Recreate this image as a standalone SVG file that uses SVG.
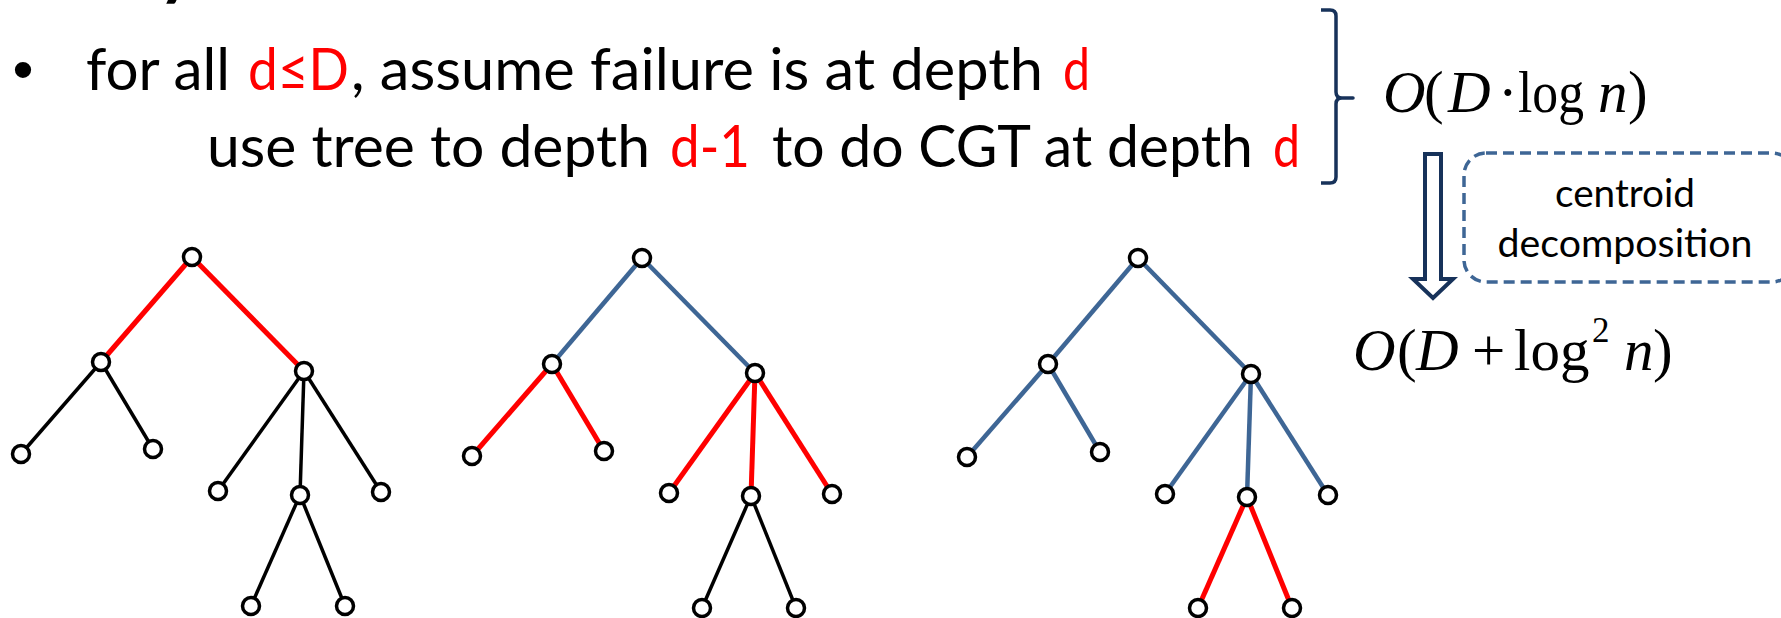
<svg xmlns="http://www.w3.org/2000/svg" width="1781" height="618" viewBox="0 0 1781 618">
  <style>
    .txt { font-family: Lato, "Open Sans", sans-serif; font-size: 58px; fill: #000; }
    .red { fill: #ff0000; }
    .math { font-family: "Liberation Serif", "Times New Roman", serif; font-size: 59px; fill: #000; }
    .it { font-style: italic; }
    .note { font-family: Lato, "Open Sans", sans-serif; font-size: 39px; fill: #000; text-anchor: middle; }
    .node { fill: #fff; stroke: #000; stroke-width: 3.5; }
    .e-red { stroke: #ff0000; stroke-width: 5; }
    .e-blk { stroke: #000; stroke-width: 3.5; }
    .e-blu { stroke: #3e6695; stroke-width: 4.5; }
  </style>

  <!-- title descender cut at the top edge -->
  <text x="158" y="-9" style="font-family: Lato, sans-serif; font-size: 72px; font-weight: bold;">y</text>

  <!-- bullet text -->
  <g id="bullet">
    <text x="23" y="90" text-anchor="middle" style="font-family: 'Liberation Sans', sans-serif; font-size: 60px;">•</text>
    <text class="txt" x="86" y="90" textLength="144" lengthAdjust="spacingAndGlyphs">for all</text>
    <text class="txt red" x="248" y="90" textLength="101" lengthAdjust="spacingAndGlyphs">d≤D</text>
    <text class="txt" x="351" y="90" textLength="692" lengthAdjust="spacingAndGlyphs">, assume failure is at depth</text>
    <text class="txt red" x="1063" y="90" textLength="27" lengthAdjust="spacingAndGlyphs">d</text>
    <text class="txt" x="207" y="167" textLength="443" lengthAdjust="spacingAndGlyphs">use tree to depth</text>
    <text class="txt red" x="670" y="167" textLength="80" lengthAdjust="spacingAndGlyphs">d-1</text>
    <text class="txt" x="772" y="167" textLength="481" lengthAdjust="spacingAndGlyphs">to do CGT at depth</text>
    <text class="txt red" x="1273" y="167" textLength="27" lengthAdjust="spacingAndGlyphs">d</text>
  </g>

  <!-- right brace grouping the two lines -->
  <g id="brace">
    <path d="M1321,10 H1330 Q1336,10 1336,16 V92 Q1336,98 1342,98 H1353 H1342 Q1336,98 1336,104 V177 Q1336,183 1330,183 H1321" fill="none" stroke="#17325a" stroke-width="3.5" stroke-linejoin="round"/>
  </g>

  <!-- complexity O(D log n) -->
  <g id="bound1">
    <text class="math" y="112">
      <tspan class="it" x="1383">O</tspan><tspan x="1424">(</tspan><tspan class="it" x="1448">D</tspan><tspan x="1498">·</tspan><tspan class="it" x="1598">n</tspan><tspan x="1628">)</tspan>
    </text>
    <text class="math" x="1518" y="112" textLength="66" lengthAdjust="spacingAndGlyphs">log</text>
  </g>

  <!-- block arrow -->
  <g id="arrow">
    <polygon points="1425,154 1441,154 1441,279 1453,279 1433,298 1413,279 1425,279" fill="#fff" stroke="#17325a" stroke-width="4" stroke-linejoin="miter"/>
  </g>

  <!-- dashed annotation box -->
  <g id="centroid-box">
    <rect x="1464" y="153" width="330" height="129" rx="22" fill="none" stroke="#3e6695" stroke-width="3.5" stroke-dasharray="11 6"/>
    <text class="note" x="1625" y="207" textLength="140" lengthAdjust="spacingAndGlyphs">centroid</text>
    <text class="note" x="1625" y="257" textLength="255" lengthAdjust="spacingAndGlyphs">decomposition</text>
  </g>

  <!-- complexity O(D + log^2 n) -->
  <g id="bound2">
    <text class="math" y="370">
      <tspan class="it" x="1353">O</tspan><tspan x="1397">(</tspan><tspan class="it" x="1416">D</tspan><tspan x="1472">+</tspan><tspan x="1514">log</tspan><tspan x="1624" class="it">n</tspan><tspan x="1653">)</tspan>
    </text>
    <text class="math" x="1592" y="342" style="font-size: 35px;">2</text>
  </g>

  <!-- tree edges -->
  <g id="edges" stroke-linecap="butt">
    <!-- tree 1 -->
    <line class="e-red" x1="192" y1="257" x2="101" y2="362"/>
    <line class="e-red" x1="192" y1="257" x2="304" y2="371"/>
    <line class="e-blk" x1="101" y1="362" x2="21" y2="454"/>
    <line class="e-blk" x1="101" y1="362" x2="153" y2="449"/>
    <line class="e-blk" x1="304" y1="371" x2="218" y2="491"/>
    <line class="e-blk" x1="304" y1="371" x2="300" y2="495"/>
    <line class="e-blk" x1="304" y1="371" x2="381" y2="492"/>
    <line class="e-blk" x1="300" y1="495" x2="251" y2="606"/>
    <line class="e-blk" x1="300" y1="495" x2="345" y2="606"/>
    <!-- tree 2 -->
    <line class="e-blu" x1="642" y1="258" x2="552" y2="364"/>
    <line class="e-blu" x1="642" y1="258" x2="755" y2="373"/>
    <line class="e-red" x1="552" y1="364" x2="472" y2="456"/>
    <line class="e-red" x1="552" y1="364" x2="604" y2="451"/>
    <line class="e-red" x1="755" y1="373" x2="669" y2="493"/>
    <line class="e-red" x1="755" y1="373" x2="751" y2="496"/>
    <line class="e-red" x1="755" y1="373" x2="832" y2="494"/>
    <line class="e-blk" x1="751" y1="496" x2="702" y2="608"/>
    <line class="e-blk" x1="751" y1="496" x2="796" y2="608"/>
    <!-- tree 3 -->
    <line class="e-blu" x1="1138" y1="258" x2="1048" y2="364"/>
    <line class="e-blu" x1="1138" y1="258" x2="1251" y2="374"/>
    <line class="e-blu" x1="1048" y1="364" x2="967" y2="457"/>
    <line class="e-blu" x1="1048" y1="364" x2="1100" y2="452"/>
    <line class="e-blu" x1="1251" y1="374" x2="1165" y2="494"/>
    <line class="e-blu" x1="1251" y1="374" x2="1247" y2="497"/>
    <line class="e-blu" x1="1251" y1="374" x2="1328" y2="495"/>
    <line class="e-red" x1="1247" y1="497" x2="1198" y2="608"/>
    <line class="e-red" x1="1247" y1="497" x2="1292" y2="608"/>
  </g>

  <!-- tree 1 nodes -->
  <g id="t1-root"><circle class="node" cx="192" cy="257" r="8.5"/></g>
  <g id="t1-l"><circle class="node" cx="101" cy="362" r="8.5"/></g>
  <g id="t1-r"><circle class="node" cx="304" cy="371" r="8.5"/></g>
  <g id="t1-ll"><circle class="node" cx="21" cy="454" r="8.5"/></g>
  <g id="t1-lr"><circle class="node" cx="153" cy="449" r="8.5"/></g>
  <g id="t1-rl"><circle class="node" cx="218" cy="491" r="8.5"/></g>
  <g id="t1-rm"><circle class="node" cx="300" cy="495" r="8.5"/></g>
  <g id="t1-rr"><circle class="node" cx="381" cy="492" r="8.5"/></g>
  <g id="t1-rml"><circle class="node" cx="251" cy="606" r="8.5"/></g>
  <g id="t1-rmr"><circle class="node" cx="345" cy="606" r="8.5"/></g>

  <!-- tree 2 nodes -->
  <g id="t2-root"><circle class="node" cx="642" cy="258" r="8.5"/></g>
  <g id="t2-l"><circle class="node" cx="552" cy="364" r="8.5"/></g>
  <g id="t2-r"><circle class="node" cx="755" cy="373" r="8.5"/></g>
  <g id="t2-ll"><circle class="node" cx="472" cy="456" r="8.5"/></g>
  <g id="t2-lr"><circle class="node" cx="604" cy="451" r="8.5"/></g>
  <g id="t2-rl"><circle class="node" cx="669" cy="493" r="8.5"/></g>
  <g id="t2-rm"><circle class="node" cx="751" cy="496" r="8.5"/></g>
  <g id="t2-rr"><circle class="node" cx="832" cy="494" r="8.5"/></g>
  <g id="t2-rml"><circle class="node" cx="702" cy="608" r="8.5"/></g>
  <g id="t2-rmr"><circle class="node" cx="796" cy="608" r="8.5"/></g>

  <!-- tree 3 nodes -->
  <g id="t3-root"><circle class="node" cx="1138" cy="258" r="8.5"/></g>
  <g id="t3-l"><circle class="node" cx="1048" cy="364" r="8.5"/></g>
  <g id="t3-r"><circle class="node" cx="1251" cy="374" r="8.5"/></g>
  <g id="t3-ll"><circle class="node" cx="967" cy="457" r="8.5"/></g>
  <g id="t3-lr"><circle class="node" cx="1100" cy="452" r="8.5"/></g>
  <g id="t3-rl"><circle class="node" cx="1165" cy="494" r="8.5"/></g>
  <g id="t3-rm"><circle class="node" cx="1247" cy="497" r="8.5"/></g>
  <g id="t3-rr"><circle class="node" cx="1328" cy="495" r="8.5"/></g>
  <g id="t3-rml"><circle class="node" cx="1198" cy="608" r="8.5"/></g>
  <g id="t3-rmr"><circle class="node" cx="1292" cy="608" r="8.5"/></g>
</svg>
